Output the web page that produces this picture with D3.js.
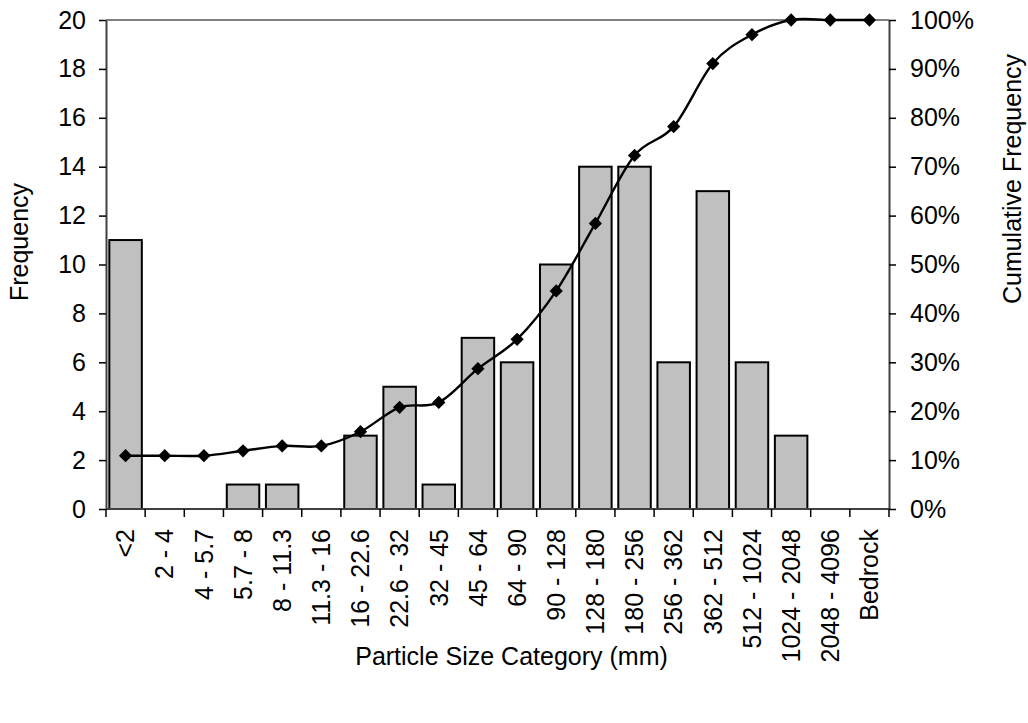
<!DOCTYPE html>
<html>
<head>
<meta charset="utf-8">
<script src="https://cdn.jsdelivr.net/npm/d3@7"></script>
<style>
  html, body { margin: 0; padding: 0; background: #fff; }
  svg { display: block; font-family: "Liberation Sans", Arial, sans-serif; }
</style>
</head>
<body>
<svg id="chart" width="1028" height="723"></svg>
<script>
const categories = ["<2", "2 - 4", "4 - 5.7", "5.7 - 8", "8 - 11.3", "11.3 - 16", "16 - 22.6",
  "22.6 - 32", "32 - 45", "45 - 64", "64 - 90", "90 - 128", "128 - 180", "180 - 256",
  "256 - 362", "362 - 512", "512 - 1024", "1024 - 2048", "2048 - 4096", "Bedrock"];
const frequency = [11, 0, 0, 1, 1, 0, 3, 5, 1, 7, 6, 10, 14, 14, 6, 13, 6, 3, 0, 0];
const cumulativePct = [10.9, 10.9, 10.9, 11.9, 12.9, 12.9, 15.8, 20.8, 21.8, 28.7, 34.7,
  44.6, 58.4, 72.3, 78.2, 91.1, 97.0, 100, 100, 100];
const leftTicks = [0, 2, 4, 6, 8, 10, 12, 14, 16, 18, 20];
const rightTicks = [0, 10, 20, 30, 40, 50, 60, 70, 80, 90, 100];

const L = 106, R = 889, T = 20, B = 509;
const FS = 25;
const FF = "Liberation Sans, Arial, sans-serif";
const svg = d3.select("#chart");

const x = d3.scaleBand().domain(categories).range([L, R]).paddingInner(0.17).paddingOuter(0.085);
const xb = d3.scaleBand().domain(categories).range([L, R]).padding(0);
const yL = d3.scaleLinear().domain([0, 20]).range([B, T]);
const yR = d3.scaleLinear().domain([0, 100]).range([B, T]);

// top border of plot area
svg.append("line").attr("x1", L).attr("x2", R).attr("y1", T).attr("y2", T)
  .attr("stroke", "#808080").attr("stroke-width", 2);

// bars
svg.append("g").selectAll("rect").data(categories.map((c, i) => ({c, v: frequency[i]})).filter(d => d.v > 0))
  .join("rect")
  .attr("x", d => x(d.c))
  .attr("width", x.bandwidth())
  .attr("y", d => yL(d.v))
  .attr("height", d => yL(0) - yL(d.v))
  .attr("fill", "#c0c0c0")
  .attr("stroke", "#000")
  .attr("stroke-width", 2);

// left axis
const gl = svg.append("g").attr("transform", `translate(${L},0)`)
  .call(d3.axisLeft(yL).tickValues(leftTicks).tickSize(7).tickSizeOuter(0).tickPadding(13));
gl.select(".domain").attr("stroke", "#404040").attr("stroke-width", 2);
gl.selectAll(".tick line").attr("stroke", "#000").attr("stroke-width", 1.5);
gl.selectAll(".tick text").attr("font-size", FS).attr("font-family", FF).attr("fill", "#000");

// right axis
const gr = svg.append("g").attr("transform", `translate(${R},0)`)
  .call(d3.axisRight(yR).tickValues(rightTicks).tickSize(7).tickSizeOuter(0).tickPadding(14).tickFormat(d => d + "%"));
gr.select(".domain").attr("stroke", "#404040").attr("stroke-width", 2);
gr.selectAll(".tick line").attr("stroke", "#000").attr("stroke-width", 1.5);
gr.selectAll(".tick text").attr("font-size", FS).attr("font-family", FF).attr("fill", "#000");

// x axis
const gx = svg.append("g");
gx.append("line").attr("x1", L).attr("x2", R).attr("y1", B).attr("y2", B)
  .attr("stroke", "#404040").attr("stroke-width", 2);
const boundaries = categories.map(c => xb(c)).concat([xb.range()[1]]);
gx.selectAll("line.tk").data(boundaries).join("line").attr("class", "tk")
  .attr("x1", d => d).attr("x2", d => d).attr("y1", B).attr("y2", B + 8)
  .attr("stroke", "#000").attr("stroke-width", 1.5);
gx.selectAll("text").data(categories).join("text")
  .attr("transform", d => `translate(${x(d) + x.bandwidth() / 2},529) rotate(-90)`)
  .attr("text-anchor", "end")
  .attr("dy", "0.35em")
  .attr("font-size", FS)
  .attr("fill", "#000")
  .text(d => d);

// cumulative line
const pts = categories.map((c, i) => [x(c) + x.bandwidth() / 2, yR(cumulativePct[i])]);
svg.append("path")
  .attr("d", d3.line().curve(d3.curveCardinal.tension(0))(pts))
  .attr("fill", "none").attr("stroke", "#000").attr("stroke-width", 2.4);
svg.append("g").selectAll("path").data(pts).join("path")
  .attr("d", d3.symbol(d3.symbolSquare, 88)())
  .attr("transform", d => `translate(${d[0]},${d[1]}) rotate(45)`)
  .attr("fill", "#000");

// axis titles
svg.append("text").attr("x", (357 + 666) / 2).attr("y", 665).attr("text-anchor", "middle")
  .attr("font-size", FS).attr("fill", "#000").text("Particle Size Category (mm)");
svg.append("text").attr("transform", "translate(28,242) rotate(-90)").attr("text-anchor", "middle")
  .attr("font-size", FS).attr("fill", "#000").text("Frequency");
svg.append("text").attr("transform", "translate(1021,179) rotate(-90)").attr("text-anchor", "middle")
  .attr("font-size", FS).attr("fill", "#000").text("Cumulative Frequency");
</script>
</body>
</html>
